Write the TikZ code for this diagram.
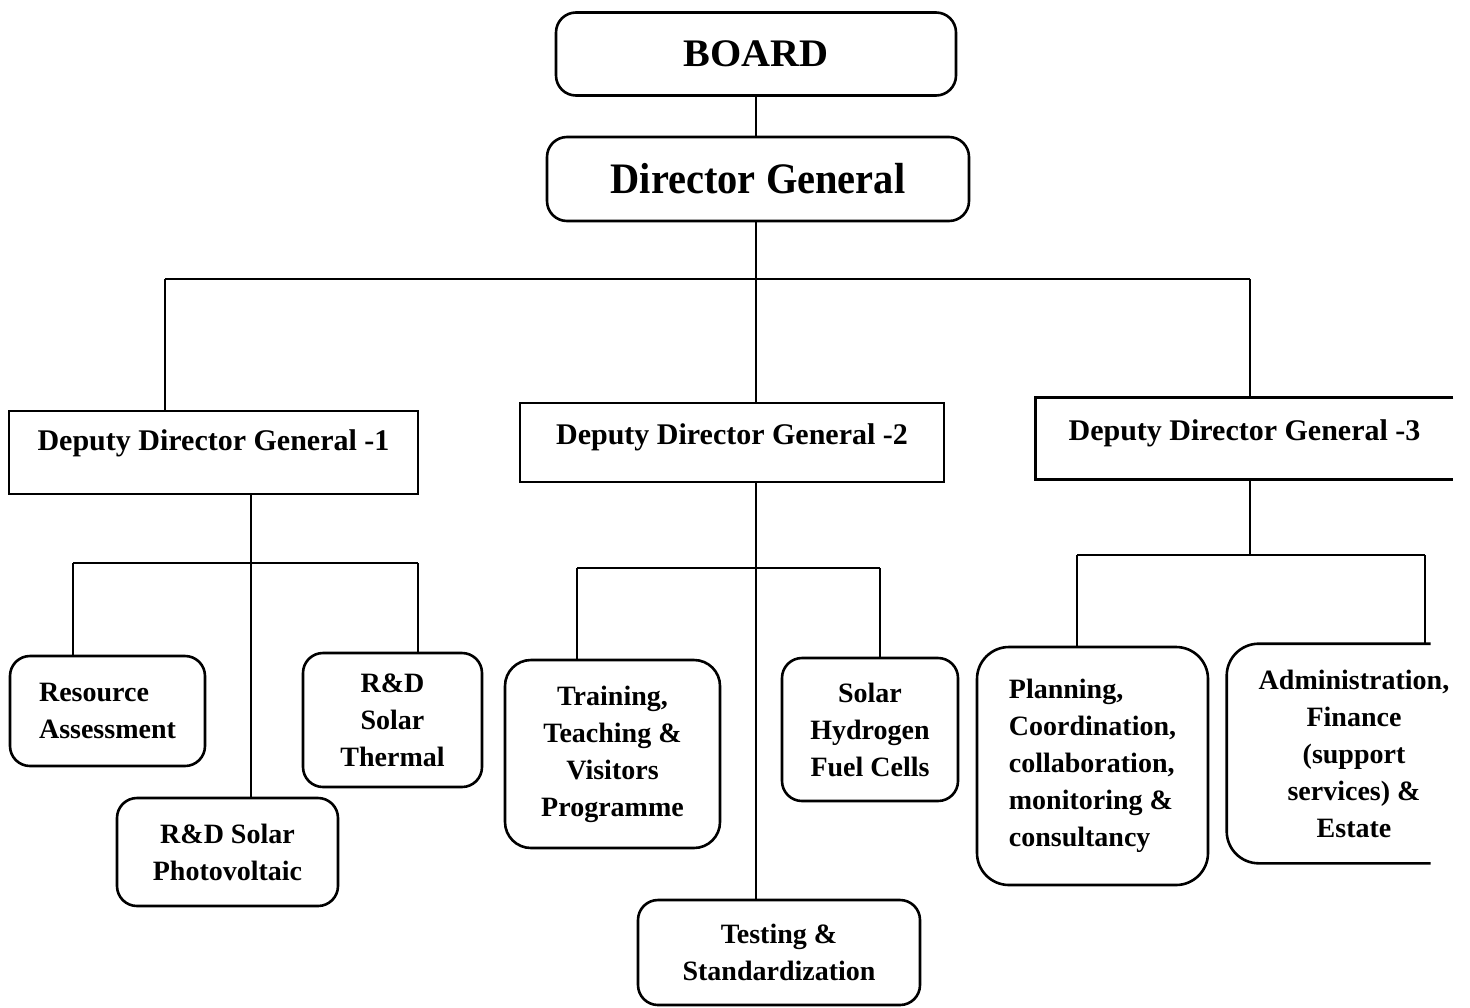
\documentclass[tikz,border=0pt]{standalone}
\usepackage{fontspec}
\setmainfont{Liberation Serif}
\newfontfamily\boardfont[FakeStretch=1.03]{Liberation Serif}
\newfontfamily\dgfont[FakeStretch=0.93]{Liberation Serif}
\usetikzlibrary{calc}
\begin{document}
\begin{tikzpicture}[x=0.5pt,y=-0.5pt,
  line width=1.3pt,
  rbox/.style={draw, rounded corners=10pt, inner sep=0pt, align=center,
    font=\fontsize{14}{18.5}\selectfont\bfseries},
  lbox/.style={rbox, align=left},
  ddgbox/.style={anchor=base, inner xsep=0pt, inner ysep=0pt,
    font=\fontsize{15}{18}\selectfont\bfseries},
  link/.style={line width=1pt}
]
\useasboundingbox (0,0) rectangle (1470,1007);

% top
\node[draw, rounded corners=10pt, minimum width=200pt, minimum height=41.5pt, inner sep=0pt,
  font=\boardfont\fontsize{19.5}{22}\selectfont\bfseries] (board) at (756,54) {BOARD};
\node[draw, rounded corners=10pt, minimum width=211pt, minimum height=42pt, inner sep=0pt,
  font=\dgfont\fontsize{21.75}{25}\selectfont\bfseries] (dg) at (758,179) {Director General};

% deputy directors
\node[ddgbox, draw, minimum width=204.5pt, text height=19.5pt, text depth=22pt] (d1) at (213.5,450) {Deputy Director General -1};
\node[ddgbox, draw, minimum width=212pt, text height=20.5pt, text depth=19pt] (d2) at (732,444) {Deputy Director General -2};
\node[ddgbox, minimum width=207.5pt, text height=20.5pt, text depth=19pt] (d3) at (1244.5,440) {Deputy Director General -3};
\draw (d3.north east) -| (d3.south west) -- (d3.south east);

% units of DDG-1
\node[lbox, minimum width=97.5pt, minimum height=55pt] (ra) at (107.5,711) {Resource\\Assessment};
\node[rbox, minimum width=89.5pt, minimum height=67pt] (th) at (392.5,720) {R\&D\\Solar\\Thermal};
\node[rbox, minimum width=110.5pt, minimum height=54pt] (pv) at (227.5,852) {R\&D Solar\\Photovoltaic};

% units of DDG-2
\node[rbox, rounded corners=13pt, minimum width=107.5pt, minimum height=94pt] (tr) at (612.5,754) {Training,\\Teaching \&\\Visitors\\Programme};
\node[rbox, minimum width=88pt, minimum height=71.5pt] (sh) at (870,729.5) {Solar\\Hydrogen\\Fuel Cells};
\node[rbox, minimum width=141pt, minimum height=52.5pt] (ts) at (779,952.5) {Testing \&\\Standardization};

% units of DDG-3
\node[lbox, rounded corners=16pt, minimum width=115.5pt, minimum height=119pt] (pl) at (1092.5,766) {Planning,\\Coordination,\\collaboration,\\monitoring \&\\consultancy};
\node[inner sep=0pt, align=center, minimum width=126pt, minimum height=108.5pt,
  font=\fontsize{14}{18.5}\selectfont\bfseries] (ad) at (1354,753.5) {Administration,\\Finance\\(support\\services) \&\\Estate};
\draw[rounded corners=16pt] ($(ad.north west)+(204,0)$) -| (ad.west) |- ($(ad.south west)+(204,0)$);

% connectors: top
\coordinate (c0) at (756,279);
\coordinate (b1) at (165,279);
\coordinate (b3) at (1250,279);
\draw[link] (board.south) -- (dg.north -| board.south);
\draw[link] (dg.south -| c0) -- (c0);
\draw[link] (b1) -- (b3);
\draw[link] (b1) -- (b1 |- d1.north);
\draw[link] (c0) -- (c0 |- d2.north);
\draw[link] (b3) -- (b3 |- d3.north);

% connectors: DDG-1
\coordinate (e0) at (251,563);
\coordinate (e1) at (73,563);
\coordinate (e2) at (418,563);
\draw[link] (e0 |- d1.south) -- (e0 |- pv.north);
\draw[link] (e1) -- (e2);
\draw[link] (e1) -- (e1 |- ra.north);
\draw[link] (e2) -- (e2 |- th.north);

% connectors: DDG-2
\coordinate (f1) at (577,568);
\coordinate (f2) at (880,568);
\draw[link] (c0 |- d2.south) -- (c0 |- ts.north);
\draw[link] (f1) -- (f2);
\draw[link] (f1) -- (f1 |- tr.north);
\draw[link] (f2) -- (f2 |- sh.north);

% connectors: DDG-3
\coordinate (g0) at (1250,555);
\coordinate (g1) at (1077,555);
\coordinate (g2) at (1425,555);
\draw[link] (g0 |- d3.south) -- (g0);
\draw[link] (g1) -- (g2);
\draw[link] (g1) -- (g1 |- pl.north);
\draw[link] (g2) -- (g2 |- ad.north);
\end{tikzpicture}
\end{document}
